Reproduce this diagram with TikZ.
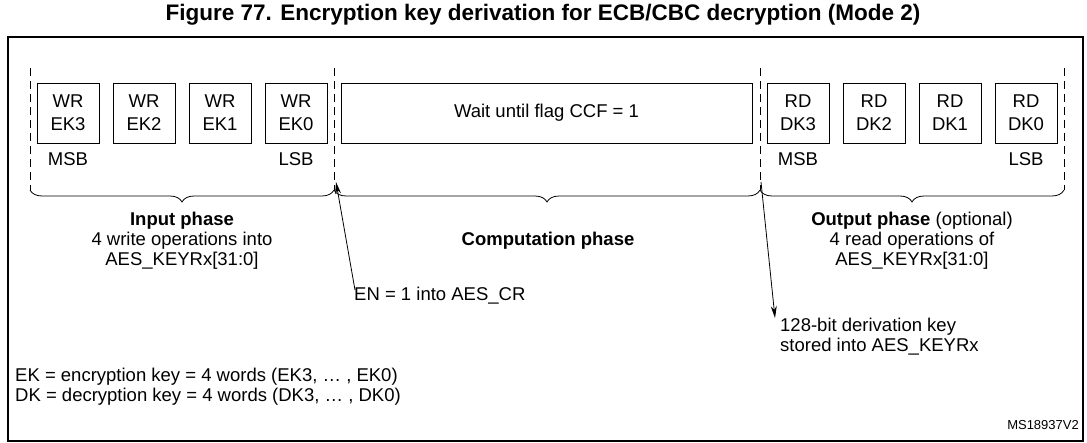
\documentclass[tikz,border=0pt]{standalone}
\usepackage{fontspec}
\setmainfont{Liberation Sans}
\usetikzlibrary{decorations.pathreplacing,arrows.meta}
\begin{document}
\begin{tikzpicture}[x=1pt,y=-1pt,
  box/.style={draw,line width=0.9pt,minimum width=62pt,minimum height=60pt,inner sep=0pt,align=center,font=\fontsize{18.5}{23}\selectfont},
  lbl/.style={inner sep=0pt,align=center,font=\fontsize{18.5}{20}\selectfont},
  dsh/.style={dashed,dash pattern=on 8pt off 5pt,line width=0.7pt},
  brc/.style={decorate,decoration={brace,mirror,amplitude=12pt},line width=0.8pt},
  arr/.style={-{Stealth[length=12pt,width=6pt]},line width=0.8pt}]
\useasboundingbox (0,0) rectangle (1087,443);
\node[font=\bfseries\fontsize{22.5}{25}\selectfont] (title) at (543,15) {Figure 77. Encryption key derivation for ECB/CBC decryption (Mode 2)};
\draw[line width=1.2pt] (8,37) rectangle (1083,441);
\foreach \x/\n in {30/d1,334/d2,760/d3,1064/d4}{
  \coordinate (\n t) at (\x,68); \coordinate (\n b) at (\x,190);
  \draw[dsh] (\n t) -- (\n b);}
\node[box] (ek3) at (68,113) {WR\\EK3};
\node[box] (ek2) at (144,113) {WR\\EK2};
\node[box] (ek1) at (220,113) {WR\\EK1};
\node[box] (ek0) at (296,113) {WR\\EK0};
\node[box,minimum width=411pt] (wait) at (546.5,113) {Wait until flag CCF = 1};
\node[box] (dk3) at (798,113) {RD\\DK3};
\node[box] (dk2) at (874,113) {RD\\DK2};
\node[box] (dk1) at (950,113) {RD\\DK1};
\node[box] (dk0) at (1026,113) {RD\\DK0};
\node[lbl] (m1) at (68,159) {MSB};
\node[lbl] (l1) at (296,159) {LSB};
\node[lbl] (m2) at (798,159) {MSB};
\node[lbl] (l2) at (1026,159) {LSB};
\draw[brc] (d1b) -- (d2b);
\draw[brc] (d2b) -- (d3b);
\draw[brc] (d3b) -- (d4b);
\node[lbl] (inp) at (182,241) {\textbf{Input phase}\\4 write operations into\\AES\_KEYRx[31:0]};
\node[lbl] (comp) at (548,241) {\textbf{Computation phase}};
\node[lbl] (outp) at (912,241) {\textbf{Output phase} (optional)\\4 read operations of\\AES\_KEYRx[31:0]};
\node[lbl,anchor=west] (en) at (354,296) {EN = 1 into AES\_CR};
\coordinate (ent) at (336,182);
\draw[arr] (355,290) -- (ent);
\node[lbl,anchor=north west,align=left] (key) at (780,318) {128-bit derivation key\\stored into AES\_KEYRx};
\coordinate (ks) at (761,182);
\draw[arr] (ks) -- (775,318);
\node[lbl,anchor=west,align=left] (ek) at (15,387) {EK = encryption key = 4 words (EK3, \dots\ , EK0)\\DK = decryption key = 4 words (DK3, \dots\ , DK0)};
\node[anchor=east,inner sep=0pt,font=\fontsize{13}{15}\selectfont] (ms) at (1079,425) {MS18937V2};
\end{tikzpicture}
\end{document}
